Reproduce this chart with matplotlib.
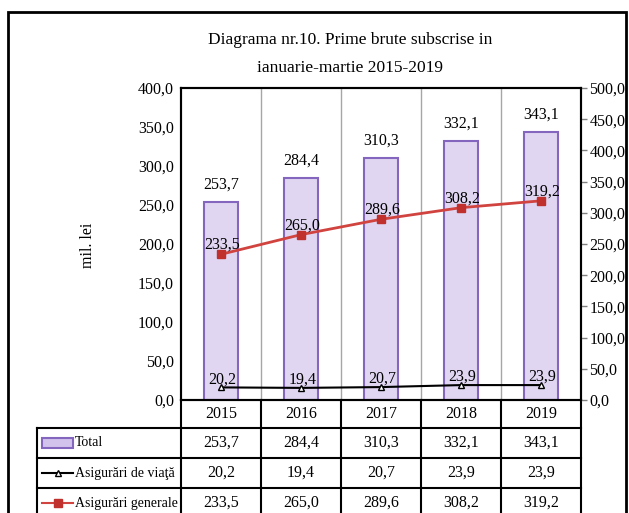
import numpy as np
import matplotlib
matplotlib.use("Agg")
import matplotlib.pyplot as plt
import matplotlib.transforms as mtransforms
from matplotlib.patches import Rectangle
from matplotlib.lines import Line2D

plt.rcParams['font.family'] = ['Liberation Serif', 'DejaVu Serif']

# data
years = ['2015', '2016', '2017', '2018', '2019']
total = [253.7, 284.4, 310.3, 332.1, 343.1]
viata = [20.2, 19.4, 20.7, 23.9, 23.9]
generale = [233.5, 265.0, 289.6, 308.2, 319.2]
row_names = ['Total', 'Asigurări de viaţă', 'Asigurări generale']
left_ticks = np.arange(0, 401, 50)
right_ticks = np.arange(0, 501, 50)

bar_face = '#E0D6F2'
bar_edge = '#8466BE'
red = '#D0433F'
FS = 11.5


def fmt(v):
    return f"{v:.1f}".replace('.', ',')


W, H = 629, 513
fig = plt.figure(figsize=(W / 100, H / 100), dpi=100)
ax = fig.add_axes([181 / W, 1 - 400 / H, 400 / W, 312 / H])

x = np.arange(len(years))
ax.bar(x, total, width=0.42, color=bar_face, edgecolor=bar_edge, linewidth=1.5, zorder=2)
ax.set_xlim(-0.5, len(years) - 0.5)
ax.set_ylim(0, 400)
ax.set_yticks(left_ticks)
ax.set_yticklabels([fmt(v) for v in left_ticks], fontsize=FS)
ax.set_xticks([])
ax.tick_params(axis='y', length=0, pad=5)
for b in np.arange(0.5, len(years) - 0.5):
    ax.axvline(b, color='#A6A6A6', lw=1, zorder=1)
for s in ax.spines.values():
    s.set_color('black')
    s.set_linewidth(1.5)

for xi, v in zip(x, total):
    ax.annotate(fmt(v), (xi, v), xytext=(0, 7), textcoords='offset points',
                ha='center', va='bottom', fontsize=FS)

# lines on the secondary axis
ax2 = ax.twinx()
ax2.set_ylim(0, 500)
ax2.set_yticks(right_ticks)
ax2.set_yticklabels([fmt(v) for v in right_ticks], fontsize=FS)
ax2.tick_params(axis='y', length=4, width=1, color='#808080', pad=2)
ax2.plot(x, generale, color=red, lw=2, marker='s', ms=6, mfc='#C0302C', mec='#C0302C', zorder=3)
ax2.plot(x, viata, color='black', lw=1.5, marker='^', ms=5, mfc='white', mec='black', zorder=3)
for s in ax2.spines.values():
    s.set_color('black')
    s.set_linewidth(1.5)

for xi, v in zip(x, generale):
    ax2.annotate(fmt(v), (xi, v), xytext=(1, 1), textcoords='offset points',
                 ha='center', va='bottom', fontsize=FS)
for xi, v in zip(x, viata):
    ax2.annotate(fmt(v), (xi, v), xytext=(1, 0), textcoords='offset points',
                 ha='center', va='bottom', fontsize=FS)

# data table under the chart
tr = mtransforms.blended_transform_factory(ax.transData, ax.transAxes)


def ay(py):
    return (400 - py) / 312


def dx(px):
    return -0.5 - (181 - px) / 80


row_y = [ay(p) for p in (400, 428, 458, 488, 518)]
x_left = dx(37)
x_right = len(years) - 0.5
lkw = dict(color='black', lw=1.5, transform=tr, clip_on=False)

for yy in row_y[1:]:
    ax.add_line(Line2D([x_left, x_right], [yy, yy], **lkw))
for b in np.arange(-0.5, len(years)):
    ax.add_line(Line2D([b, b], [row_y[0], row_y[-1]], **lkw))
ax.add_line(Line2D([x_left, x_left], [row_y[1], row_y[-1]], **lkw))

hdr_y = (row_y[0] + row_y[1]) / 2
for xi, yr in zip(x, years):
    ax.text(xi, hdr_y, yr, transform=tr, ha='center', va='center', fontsize=FS)

for r, vals in enumerate([total, viata, generale]):
    cy = (row_y[r + 1] + row_y[r + 2]) / 2
    for xi, v in zip(x, vals):
        ax.text(xi, cy, fmt(v), transform=tr, ha='center', va='center', fontsize=FS)
    ax.text(dx(75), cy, row_names[r], transform=tr, ha='left', va='center', fontsize=10)

# legend keys inside the table
cy0 = (row_y[1] + row_y[2]) / 2
ax.add_patch(Rectangle((dx(42), cy0 - 0.017), dx(73) - dx(42), 0.034, transform=tr,
                       facecolor='#D2C3EC', edgecolor=bar_edge, lw=1.5, clip_on=False))
cy1 = (row_y[2] + row_y[3]) / 2
ax.add_line(Line2D([dx(42), dx(73)], [cy1, cy1], color='black', lw=1.5, transform=tr, clip_on=False))
ax.add_line(Line2D([dx(57.5)], [cy1], marker='^', ms=5, mfc='white', mec='black',
                   transform=tr, clip_on=False))
cy2 = (row_y[3] + row_y[4]) / 2
ax.add_line(Line2D([dx(42), dx(73)], [cy2, cy2], color=red, lw=1.5, transform=tr, clip_on=False))
ax.add_line(Line2D([dx(57.5)], [cy2], marker='s', ms=6, mfc='#C0302C', mec='#C0302C',
                   transform=tr, clip_on=False))

# titles and outer frame
fig.text(350 / W, 1 - 53.5 / H, 'Diagrama nr.10. Prime brute subscrise in\nianuarie-martie 2015-2019',
         ha='center', va='center', fontsize=12.5, linespacing=2.0)
fig.text(88 / W, 1 - 245 / H, 'mil. lei', rotation=90, ha='center', va='center', fontsize=FS)
fig.add_artist(Rectangle((8 / W, -0.1), (626 - 8) / W, 1.1 - 12 / H, transform=fig.transFigure,
                         fill=False, edgecolor='black', lw=2))

fig.savefig('out.png', dpi=100)
